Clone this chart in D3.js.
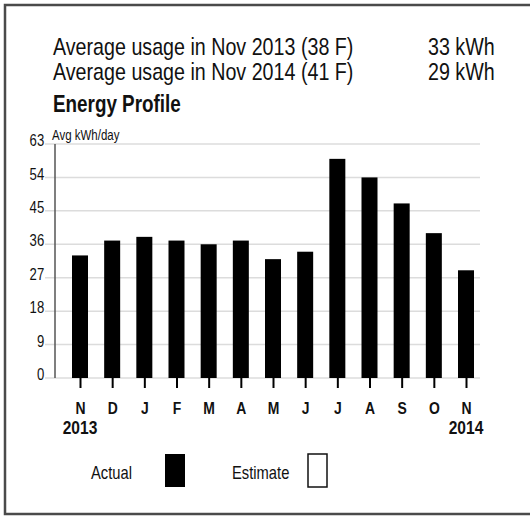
<!DOCTYPE html>
<html>
<head>
<meta charset="utf-8">
<script src="https://cdn.jsdelivr.net/npm/d3@7"></script>
<style>
  html, body { margin: 0; padding: 0; background: #fff; }
  svg text { font-family: "Liberation Sans", Arial, Helvetica, sans-serif; fill: #111; }
</style>
</head>
<body>
<svg id="chart" width="530" height="517"></svg>
<script>
// ---- data ----
const months = ["N", "D", "J", "F", "M", "A", "M", "J", "J", "A", "S", "O", "N"];
const years = ["2013", "", "", "", "", "", "", "", "", "", "", "", "2014"];
const actual = [33, 37, 38, 37, 36, 37, 32, 34, 59, 54, 47, 39, 29];
const yTicks = [0, 9, 18, 27, 36, 45, 54, 63];
const headerLabels = ["Average usage in Nov 2013 (38 F)", "Average usage in Nov 2014 (41 F)"];
const headerValues = ["33 kWh", "29 kWh"];
const legendItems = ["Actual", "Estimate"];

const NARROW = 0.82; // narrow (condensed) type
const svg = d3.select("#chart");

function txt(g, x, y, s, size, weight, anchor) {
  return g.append("text")
    .attr("transform", `translate(${x},${y}) scale(${NARROW},1)`)
    .attr("font-size", size)
    .attr("font-weight", weight || "normal")
    .attr("text-anchor", anchor || "start")
    .text(s);
}

// frame
svg.append("rect").attr("x", 5).attr("y", 5).attr("width", 540).attr("height", 509)
  .attr("fill", "none").attr("stroke", "#4a4a4a").attr("stroke-width", 2.5);

// header
const hdr = svg.append("g");
headerLabels.forEach((t, i) => {
  txt(hdr, 53, 55 + i * 25, t, 24);
  txt(hdr, 428, 55 + i * 25, headerValues[i], 24);
});
txt(hdr, 53, 112, "Energy Profile", 23, "bold");

// scales
const idx = d3.range(months.length);
const x = d3.scalePoint().domain(idx).range([80, 466]);
const y = d3.scaleLinear().domain([0, 63]).range([378, 144]);
const barW = 16;

// gridlines
svg.append("g").selectAll("line").data(yTicks).join("line")
  .attr("x1", 45).attr("x2", 480)
  .attr("y1", d => y(d)).attr("y2", d => y(d))
  .attr("stroke", "#dcdcdc").attr("stroke-width", 1.5);

// y axis labels
const yAxis = svg.append("g").attr("transform", "translate(45,0)")
  .call(d3.axisLeft(y).tickValues(yTicks).tickSize(0).tickPadding(1));
yAxis.select(".domain").remove();
yAxis.selectAll("text")
  .attr("font-size", 16).attr("dy", "0.1em")
  .attr("transform", `scale(${NARROW},1)`)
  .style("font-family", "'Liberation Sans', Arial, sans-serif").attr("fill", "#1a1a1a");

// y axis line
svg.append("line").attr("x1", 55).attr("x2", 55).attr("y1", y(63)).attr("y2", y(0))
  .attr("stroke", "#555").attr("stroke-width", 1.5);

// unit label
txt(svg, 52, 140, "Avg kWh/day", 14);

// bars
svg.append("g").selectAll("rect").data(actual).join("rect")
  .attr("x", (d, i) => x(i) - barW / 2)
  .attr("y", d => y(d))
  .attr("width", barW)
  .attr("height", d => y(0) - y(d))
  .attr("fill", "#000");

// x axis ticks + month labels
const xAxis = svg.append("g").attr("transform", `translate(0,${y(0)})`)
  .call(d3.axisBottom(x).tickSize(10).tickPadding(14).tickFormat(i => months[i]));
xAxis.select(".domain").remove();
xAxis.selectAll(".tick line").attr("stroke", "#000").attr("stroke-width", 2);
xAxis.selectAll(".tick text")
  .attr("font-size", 17).attr("font-weight", "bold")
  .attr("transform", `scale(${NARROW},1)`)
  .style("font-family", "'Liberation Sans', Arial, sans-serif").attr("fill", "#111");

// year labels
const yg = svg.append("g");
years.forEach((s, i) => { if (s) txt(yg, x(i), 434, s, 19, "bold", "middle"); });

// legend
const lg = svg.append("g");
txt(lg, 91, 479, legendItems[0], 18);
lg.append("rect").attr("x", 165).attr("y", 454).attr("width", 20).attr("height", 33).attr("fill", "#000");
txt(lg, 232, 479, legendItems[1], 18);
lg.append("rect").attr("x", 308).attr("y", 454).attr("width", 19).attr("height", 33)
  .attr("fill", "#fff").attr("stroke", "#111").attr("stroke-width", 1.5);
</script>
</body>
</html>
